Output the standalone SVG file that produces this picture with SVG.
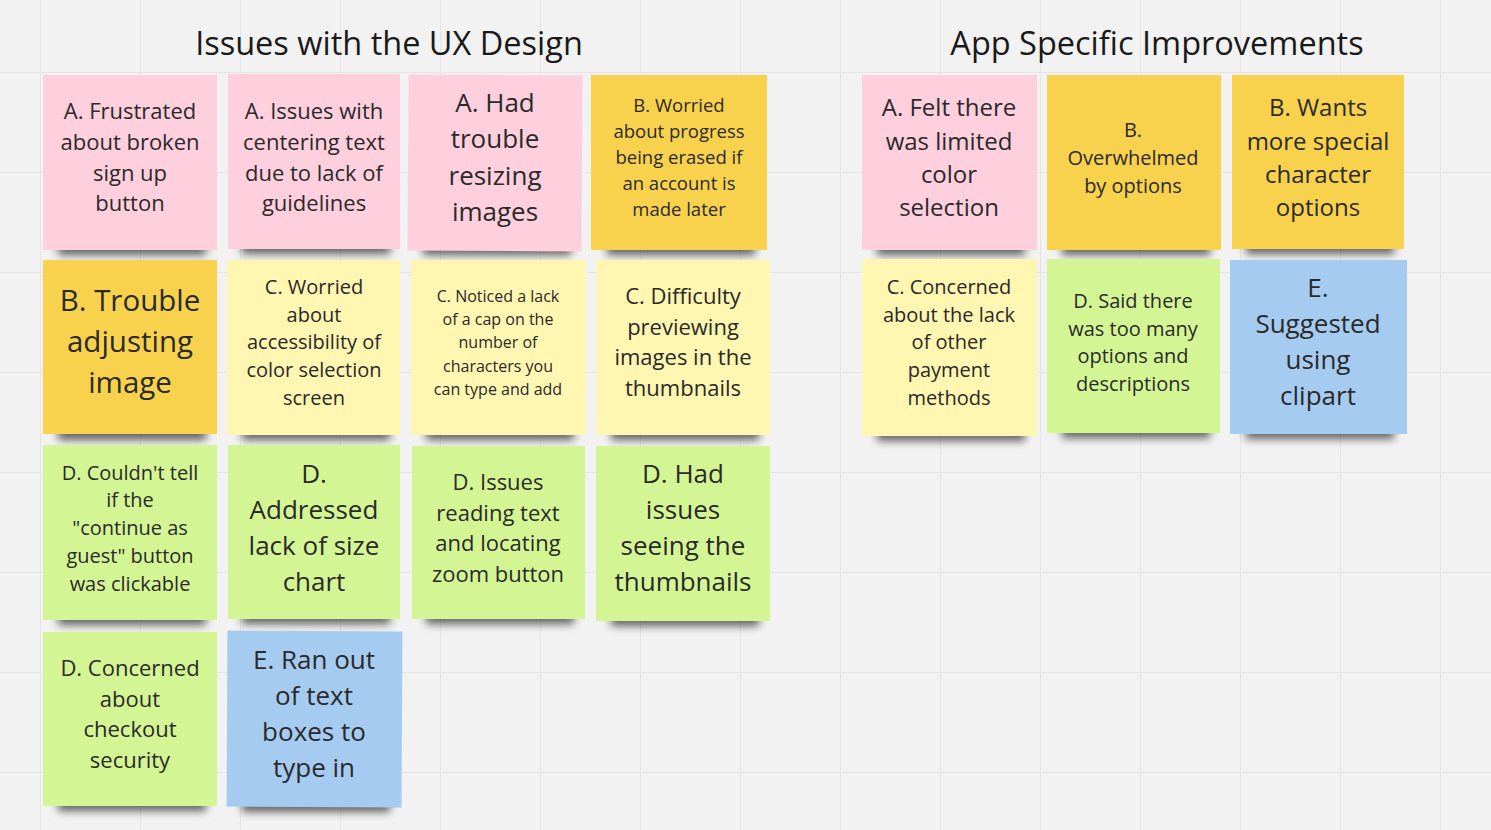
<svg xmlns="http://www.w3.org/2000/svg" width="1491" height="830" viewBox="0 0 1491 830">
<defs>
<filter id="sh" x="-20%" y="-200%" width="140%" height="500%"><feGaussianBlur stdDeviation="4.5"/></filter>
<pattern id="grid" x="40" y="72" width="100" height="100" patternUnits="userSpaceOnUse">
<path d="M0 0H100M0 0V100" stroke="#e4e4e4" stroke-width="2" fill="none"/>
</pattern>
</defs>
<style>
.pink{fill:#fecfdd}.yel{fill:#f9d24d}.lyel{fill:#fef6b1}.grn{fill:#d4f594}.blu{fill:#a5cbf1}
.s{fill:#000;opacity:.6;filter:url(#sh)}
text{font-family:"Open Sans","Noto Sans","Liberation Sans",sans-serif;fill:#2a2a2a;text-anchor:middle}
.title{font-size:32.5px;fill:#1a1a1a}
</style>
<rect width="1491" height="830" fill="#f2f2f2"/>
<rect width="1491" height="830" fill="url(#grid)"/>
<g id="titles">
<text class="title" x="389" y="55">Issues with the UX Design</text>
<text class="title" x="1157" y="55">App Specific Improvements</text>
</g>
<g id="connectors"/>
<g id="n1"><rect class="s" x="58" y="242" width="148" height="13"/><rect class="pink" x="43" y="75" width="174" height="175"/>
<text font-size="22"><tspan x="130" y="119">A. Frustrated</tspan><tspan x="130" y="150">about broken</tspan><tspan x="130" y="181">sign up</tspan><tspan x="130" y="211">button</tspan></text></g>
<g id="n2"><rect class="s" x="242" y="241" width="148" height="13"/><rect class="pink" x="228" y="74" width="172" height="175"/>
<text font-size="22"><tspan x="314" y="119">A. Issues with</tspan><tspan x="314" y="150">centering text</tspan><tspan x="314" y="181">due to lack of</tspan><tspan x="314" y="211">guidelines</tspan></text></g>
<g id="n3"><rect class="s" x="423" y="242" width="148" height="13"/><rect class="pink" x="408" y="75" width="174" height="176" transform="rotate(0.4 495 163)"/>
<text font-size="26"><tspan x="495" y="112">A. Had</tspan><tspan x="495" y="148">trouble</tspan><tspan x="495" y="185">resizing</tspan><tspan x="495" y="221">images</tspan></text></g>
<g id="n4"><rect class="s" x="607" y="242" width="148" height="13"/><rect class="yel" x="591" y="75" width="176" height="175"/>
<text font-size="18.5"><tspan x="679" y="112">B. Worried</tspan><tspan x="679" y="138">about progress</tspan><tspan x="679" y="164">being erased if</tspan><tspan x="679" y="190">an account is</tspan><tspan x="679" y="216">made later</tspan></text></g>
<g id="n5"><rect class="s" x="58" y="427" width="148" height="13"/><rect class="yel" x="43" y="260" width="174" height="174"/>
<text font-size="29.5"><tspan x="130" y="311">B. Trouble</tspan><tspan x="130" y="352">adjusting</tspan><tspan x="130" y="393">image</tspan></text></g>
<g id="n6"><rect class="s" x="242" y="427" width="148" height="13"/><rect class="lyel" x="227" y="260" width="173" height="175"/>
<text font-size="20"><tspan x="314" y="294">C. Worried</tspan><tspan x="314" y="322">about</tspan><tspan x="314" y="349">accessibility of</tspan><tspan x="314" y="377">color selection</tspan><tspan x="314" y="405">screen</tspan></text></g>
<g id="n7"><rect class="s" x="426" y="427" width="148" height="13"/><rect class="lyel" x="411" y="260" width="175" height="175"/>
<text font-size="16"><tspan x="498" y="302">C. Noticed a lack</tspan><tspan x="498" y="325">of a cap on the</tspan><tspan x="498" y="348">number of</tspan><tspan x="498" y="372">characters you</tspan><tspan x="498" y="395">can type and add</tspan></text></g>
<g id="n8"><rect class="s" x="611" y="427" width="148" height="13"/><rect class="lyel" x="596" y="260" width="174" height="175"/>
<text font-size="22"><tspan x="683" y="304">C. Difficulty</tspan><tspan x="683" y="335">previewing</tspan><tspan x="683" y="365">images in the</tspan><tspan x="683" y="396">thumbnails</tspan></text></g>
<g id="n9"><rect class="s" x="58" y="612" width="148" height="13"/><rect class="grn" x="43" y="445" width="174" height="175"/>
<text font-size="20"><tspan x="130" y="480">D. Couldn't tell</tspan><tspan x="130" y="507">if the</tspan><tspan x="130" y="535">"continue as</tspan><tspan x="130" y="563">guest" button</tspan><tspan x="130" y="591">was clickable</tspan></text></g>
<g id="n10"><rect class="s" x="242" y="611" width="148" height="13"/><rect class="grn" x="228" y="445" width="172" height="174"/>
<text font-size="26"><tspan x="314" y="483">D.</tspan><tspan x="314" y="519">Addressed</tspan><tspan x="314" y="555">lack of size</tspan><tspan x="314" y="591">chart</tspan></text></g>
<g id="n11"><rect class="s" x="426" y="611" width="148" height="13"/><rect class="grn" x="412" y="446" width="173" height="173"/>
<text font-size="22"><tspan x="498" y="490">D. Issues</tspan><tspan x="498" y="521">reading text</tspan><tspan x="498" y="551">and locating</tspan><tspan x="498" y="582">zoom button</tspan></text></g>
<g id="n12"><rect class="s" x="611" y="613" width="148" height="13"/><rect class="grn" x="596" y="446" width="174" height="175"/>
<text font-size="26"><tspan x="683" y="483">D. Had</tspan><tspan x="683" y="519">issues</tspan><tspan x="683" y="555">seeing the</tspan><tspan x="683" y="591">thumbnails</tspan></text></g>
<g id="n13"><rect class="s" x="58" y="798" width="148" height="13"/><rect class="grn" x="43" y="632" width="174" height="174"/>
<text font-size="22"><tspan x="130" y="676">D. Concerned</tspan><tspan x="130" y="707">about</tspan><tspan x="130" y="737">checkout</tspan><tspan x="130" y="768">security</tspan></text></g>
<g id="n14"><rect class="s" x="242" y="799" width="148" height="13"/><rect class="blu" x="227" y="631" width="175" height="176" transform="rotate(0.3 314 719)"/>
<text font-size="26"><tspan x="314" y="669">E. Ran out</tspan><tspan x="314" y="705">of text</tspan><tspan x="314" y="741">boxes to</tspan><tspan x="314" y="777">type in</tspan></text></g>
<g id="r1"><rect class="s" x="877" y="242" width="148" height="13"/><rect class="pink" x="862" y="75" width="175" height="175"/>
<text font-size="24"><tspan x="949" y="116">A. Felt there</tspan><tspan x="949" y="150">was limited</tspan><tspan x="949" y="183">color</tspan><tspan x="949" y="216">selection</tspan></text></g>
<g id="r2"><rect class="s" x="1062" y="242" width="148" height="13"/><rect class="yel" x="1047" y="75" width="174" height="175"/>
<text font-size="20"><tspan x="1133" y="137">B.</tspan><tspan x="1133" y="165">Overwhelmed</tspan><tspan x="1133" y="193">by options</tspan></text></g>
<g id="r3"><rect class="s" x="1246" y="241" width="148" height="13"/><rect class="yel" x="1232" y="75" width="172" height="174"/>
<text font-size="24"><tspan x="1318" y="116">B. Wants</tspan><tspan x="1318" y="150">more special</tspan><tspan x="1318" y="183">character</tspan><tspan x="1318" y="216">options</tspan></text></g>
<g id="r4"><rect class="s" x="877" y="428" width="148" height="13"/><rect class="lyel" x="862" y="259" width="175" height="177"/>
<text font-size="20"><tspan x="949" y="294">C. Concerned</tspan><tspan x="949" y="322">about the lack</tspan><tspan x="949" y="349">of other</tspan><tspan x="949" y="377">payment</tspan><tspan x="949" y="405">methods</tspan></text></g>
<g id="r5"><rect class="s" x="1062" y="425" width="148" height="13"/><rect class="grn" x="1047" y="259" width="173" height="174"/>
<text font-size="20"><tspan x="1133" y="308">D. Said there</tspan><tspan x="1133" y="336">was too many</tspan><tspan x="1133" y="363">options and</tspan><tspan x="1133" y="391">descriptions</tspan></text></g>
<g id="r6"><rect class="s" x="1246" y="426" width="148" height="13"/><rect class="blu" x="1230" y="260" width="177" height="174"/>
<text font-size="26"><tspan x="1318" y="297">E.</tspan><tspan x="1318" y="333">Suggested</tspan><tspan x="1318" y="369">using</tspan><tspan x="1318" y="405">clipart</tspan></text></g>
</svg>
